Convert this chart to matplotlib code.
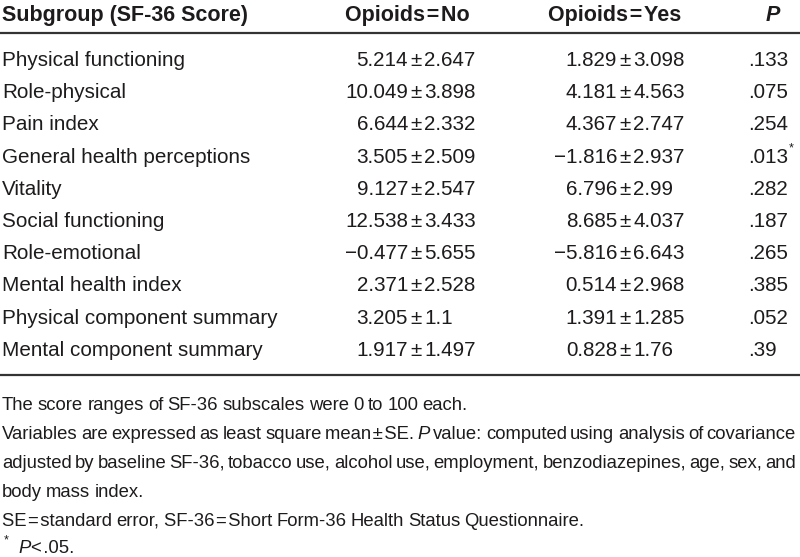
import matplotlib
matplotlib.use("Agg")
import matplotlib.pyplot as plt

plt.rcParams['font.family'] = ['Liberation Sans', 'DejaVu Sans']

# table content
subgroups = ["Physical functioning", "Role-physical", "Pain index",
             "General health perceptions", "Vitality", "Social functioning",
             "Role-emotional", "Mental health index",
             "Physical component summary", "Mental component summary"]
no_mean = ["5.214", "10.049", "6.644", "3.505", "9.127", "12.538", "\u22120.477", "2.371", "3.205", "1.917"]
no_se = ["2.647", "3.898", "2.332", "2.509", "2.547", "3.433", "5.655", "2.528", "1.1", "1.497"]
yes_mean = ["1.829", "4.181", "4.367", "\u22121.816", "6.796", "8.685", "\u22125.816", "0.514", "1.391", "0.828"]
yes_se = ["3.098", "4.563", "2.747", "2.937", "2.99", "4.037", "6.643", "2.968", "1.285", "1.76"]
p_values = [".133", ".075", ".254", ".013", ".282", ".187", ".265", ".385", ".052", ".39"]
significant = [False, False, False, True, False, False, False, False, False, False]

col_headers = ["Subgroup (SF-36 Score)", "Opioids\u200a=\u200aNo", "Opioids\u200a=\u200aYes", "P"]

ink = "#1e1b1c"
body_size = 14.9
head_size = 15.5
note_size = 13.3

fig = plt.figure(figsize=(8, 5.57), dpi=100)
ax = fig.add_axes([0, 0, 1, 1])
ax.set_xlim(0, 800)
ax.set_ylim(557, 0)
ax.axis('off')
renderer = fig.canvas.get_renderer()

# header
hy = 21
ax.text(2, hy, col_headers[0], fontsize=head_size, fontweight='bold', color=ink, va='baseline', ha='left')
ax.text(407, hy, col_headers[1], fontsize=head_size, fontweight='bold', color=ink, va='baseline', ha='center')
ax.text(615, hy, col_headers[2], fontsize=head_size, fontweight='bold', color=ink, va='baseline', ha='center')
ax.text(773, hy, col_headers[3], fontsize=head_size, fontweight='bold', style='italic', color=ink, va='baseline', ha='center')

ax.plot([0, 800], [33, 33], color='#333333', lw=1.6, solid_capstyle='butt')
ax.plot([0, 800], [375, 375], color='#333333', lw=1.6, solid_capstyle='butt')


def pm_cell(x, y, left, right):
    ax.text(x - 8, y, left, fontsize=body_size, color=ink, va='baseline', ha='right')
    ax.text(x, y, "\u00b1", fontsize=body_size, color=ink, va='baseline', ha='center')
    ax.text(x + 8, y, right, fontsize=body_size, color=ink, va='baseline', ha='left')


row_step = 32.2
for i, name in enumerate(subgroups):
    y = 66 + row_step * i
    ax.text(2, y, name, fontsize=body_size, color=ink, va='baseline', ha='left')
    pm_cell(416, y, no_mean[i], no_se[i])
    pm_cell(625, y, yes_mean[i], yes_se[i])
    t = ax.text(748, y, p_values[i], fontsize=body_size, color=ink, va='baseline', ha='left')
    if significant[i]:
        w = t.get_window_extent(renderer).width
        ax.text(748 + w + 1, y - 11, "*", fontsize=9, color=ink, va='baseline', ha='left')


def place_words(words, y, x0, x1=None, size=note_size):
    # words: list of (text, style); justify between x0 and x1 when given
    arts = []
    for word, style in words:
        arts.append(ax.text(0, y, word, fontsize=size, style=style, color=ink, va='baseline', ha='left'))
    widths = [a.get_window_extent(renderer).width for a in arts]
    if x1 is None or len(arts) < 2:
        gap = size * 0.32
    else:
        gap = (x1 - x0 - sum(widths)) / (len(arts) - 1)
    x = x0
    for a, w in zip(arts, widths):
        a.set_x(x)
        x += w + gap


def w(s, style='normal'):
    # split on plain spaces only, hair spaces stay inside words
    return [(p, style) for p in s.split(' ')]


notes_y = [410, 439, 468, 497, 526, 553]
place_words(w("The score ranges of SF-36 subscales were 0 to 100 each."), notes_y[0], 2)
place_words(w("Variables are expressed as least square mean\u200a\u00b1\u200aSE.") + w("P", 'italic')
            + w("value: computed using analysis of covariance"), notes_y[1], 2, 796)
place_words(w("adjusted by baseline SF-36, tobacco use, alcohol use, employment, benzodiazepines, age, sex, and"),
            notes_y[2], 2, 796)
place_words(w("body mass index."), notes_y[3], 2)
place_words(w("SE\u200a=\u200astandard error, SF-36\u200a=\u200aShort Form-36 Health Status Questionnaire."), notes_y[4], 2)
ax.text(4, notes_y[5] - 10, "*", fontsize=9, color=ink, va='baseline', ha='left')
ax.text(18, notes_y[5], "P", fontsize=note_size, style='italic', color=ink, va='baseline', ha='left')
ax.text(31, notes_y[5], "<\u200a.05.", fontsize=note_size, color=ink, va='baseline', ha='left')

fig.savefig("out.png", dpi=100)
